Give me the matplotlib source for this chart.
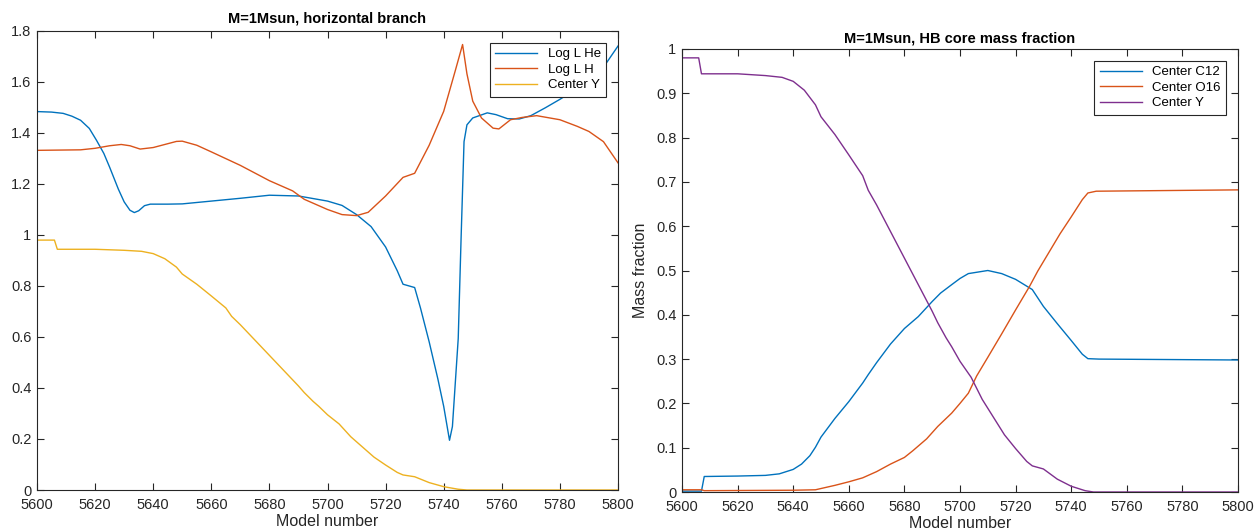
import matplotlib
matplotlib.use('Agg')
import matplotlib.pyplot as plt
from matplotlib.ticker import FuncFormatter

plt.rcParams['font.family'] = ['Liberation Sans', 'DejaVu Sans']

# Log L He vs model number
he_x = [5600, 5605, 5609, 5612, 5615, 5618, 5620.5, 5623, 5625, 5628, 5630, 5632,
        5633.5, 5635, 5637, 5639, 5645,
        5650, 5660, 5670, 5680, 5690, 5700, 5705, 5710, 5715, 5720, 5724, 5726,
        5730, 5732, 5735, 5738, 5740, 5742, 5743, 5745, 5746, 5747, 5748, 5750,
        5755, 5758, 5762, 5766, 5770, 5775, 5780, 5785, 5790, 5795, 5800]
he_y = [1.484, 1.482, 1.477, 1.466, 1.45, 1.418, 1.371, 1.32, 1.266, 1.18, 1.13, 1.097,
        1.088, 1.095, 1.115, 1.121, 1.121,
        1.122, 1.133, 1.144, 1.156, 1.153, 1.133, 1.116, 1.08, 1.033, 0.953, 0.86, 0.807,
        0.794, 0.714, 0.581, 0.435, 0.328, 0.195, 0.249, 0.594, 0.993, 1.366, 1.432, 1.459,
        1.479, 1.472, 1.456, 1.455, 1.468, 1.499, 1.532, 1.568, 1.605, 1.658, 1.741]

# Log L H
h_x = [5600, 5615, 5620, 5625, 5629, 5632, 5635.5, 5640, 5645, 5648, 5650, 5655, 5660,
       5670, 5680, 5688, 5692, 5700, 5705, 5710, 5714, 5720, 5726, 5730, 5735,
       5740, 5744, 5746.5, 5748, 5750, 5753, 5757, 5759, 5763, 5767, 5772, 5780,
       5786, 5790, 5795, 5800]
h_y = [1.332, 1.334, 1.34, 1.35, 1.355, 1.35, 1.337, 1.343, 1.358, 1.367, 1.368, 1.352, 1.326,
       1.273, 1.213, 1.173, 1.14, 1.1, 1.08, 1.076, 1.089, 1.153, 1.226, 1.242, 1.352,
       1.485, 1.645, 1.747, 1.632, 1.525, 1.459, 1.419, 1.416, 1.452, 1.461, 1.468, 1.452,
       1.426, 1.406, 1.366, 1.283]

# Center Y (same series in both panels)
y_x = [5600, 5606, 5607, 5620, 5630, 5636, 5640, 5644, 5648, 5650, 5655, 5660,
       5665, 5667, 5670, 5675, 5680, 5685, 5690, 5692, 5695, 5697, 5700, 5704,
       5708, 5712, 5716, 5720, 5724, 5726, 5730, 5735, 5740, 5745, 5748, 5800]
y_y = [0.98, 0.98, 0.944, 0.944, 0.94, 0.936, 0.927, 0.907, 0.874, 0.847, 0.807, 0.761,
       0.714, 0.681, 0.648, 0.588, 0.528, 0.468, 0.408, 0.382, 0.348, 0.328, 0.295, 0.259,
       0.209, 0.169, 0.129, 0.098, 0.069, 0.059, 0.052, 0.029, 0.013, 0.003, 0.0, 0.0]

# Center C12
c12_x = [5600, 5607, 5608, 5620, 5630, 5635, 5640, 5643, 5646, 5648, 5650, 5655,
         5660, 5665, 5667, 5670, 5675, 5680, 5685, 5690, 5693, 5697, 5700, 5703,
         5710, 5715, 5720, 5726, 5730, 5735, 5740, 5744, 5746, 5750, 5800]
c12_y = [0.002, 0.002, 0.035, 0.036, 0.0375, 0.041, 0.051, 0.063, 0.082, 0.101, 0.124, 0.166,
         0.204, 0.246, 0.265, 0.292, 0.334, 0.369, 0.396, 0.43, 0.449, 0.468, 0.482, 0.493,
         0.5, 0.493, 0.48, 0.457, 0.419, 0.38, 0.342, 0.311, 0.301, 0.3, 0.298]

# Center O16
o16_x = [5600, 5607, 5608, 5640, 5648, 5655, 5660, 5665, 5670, 5675, 5680, 5683,
         5688, 5692, 5697, 5700, 5703, 5706, 5710, 5715, 5720, 5725, 5728, 5732,
         5736, 5740, 5744, 5746, 5749, 5800]
o16_y = [0.005, 0.005, 0.003, 0.004, 0.005, 0.015, 0.023, 0.032, 0.046, 0.063, 0.078, 0.093,
         0.12, 0.148, 0.178, 0.2, 0.223, 0.262, 0.304, 0.357, 0.411, 0.464, 0.499, 0.541,
         0.583, 0.621, 0.66, 0.675, 0.679, 0.682]

blue, red, yellow, purple = '#0072BD', '#D95319', '#EDB120', '#7E2F8E'
dark = '#262626'

fig = plt.figure(figsize=(12.56, 5.31), dpi=100)
ax1 = fig.add_axes([37/1256, 1-490/531, 581/1256, 459/531])
ax2 = fig.add_axes([682/1256, 1-492/531, 556/1256, 443/531])

gfmt = FuncFormatter(lambda v, p: f'{v:g}')


def style(ax):
    ax.set_xlim(5600, 5800)
    ax.set_xticks(range(5600, 5801, 20))
    ax.tick_params(direction='in', top=True, right=True, length=5, width=0.8,
                   labelsize=10.5, colors=dark)
    ax.tick_params(axis='x', pad=6)
    ax.tick_params(axis='y', pad=4)
    ax.yaxis.set_major_formatter(gfmt)
    for s in ax.spines.values():
        s.set_color(dark)
        s.set_linewidth(0.8)
    ax.set_xlabel('Model number', fontsize=11.5, color=dark, labelpad=1)


ax1.plot(he_x, he_y, color=blue, lw=1.0, label='Log L He')
ax1.plot(h_x, h_y, color=red, lw=1.0, label='Log L H')
ax1.plot(y_x, y_y, color=yellow, lw=1.0, label='Center Y')
style(ax1)
ax1.set_ylim(0, 1.8)
ax1.set_yticks([i * 0.2 for i in range(10)])
ax1.set_title('M=1Msun, horizontal branch', fontsize=10.5, fontweight='bold', pad=6)

ax2.plot(c12_x, c12_y, color=blue, lw=1.0, label='Center C12')
ax2.plot(o16_x, o16_y, color=red, lw=1.0, label='Center O16')
ax2.plot(y_x, y_y, color=purple, lw=1.0, label='Center Y')
style(ax2)
ax2.set_ylim(0, 1)
ax2.set_yticks([i * 0.1 for i in range(11)])
ax2.set_ylabel('Mass fraction', fontsize=11.5, color=dark, labelpad=6)
ax2.set_title('M=1Msun, HB core mass fraction', fontsize=10.5, fontweight='bold', pad=5)

for ax in (ax1, ax2):
    leg = ax.legend(loc='upper right', fancybox=False, framealpha=1, edgecolor=dark,
                    fontsize=9.5, handlelength=3.2, borderaxespad=0.9,
                    labelspacing=0.25, borderpad=0.4)
    leg.get_frame().set_linewidth(0.8)

fig.savefig('out.png', dpi=100)
